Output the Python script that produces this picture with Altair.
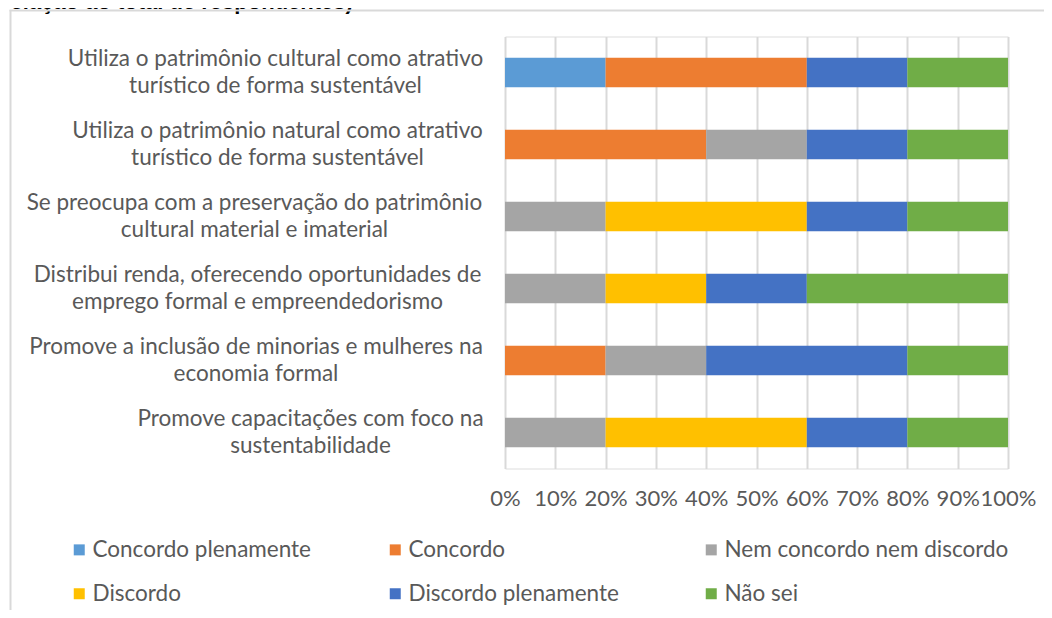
import json
import altair as alt
import pandas as pd

title_text = "relação ao total de respondentes)"

questions = [
    "Utiliza o patrimônio cultural como atrativo|turístico de forma sustentável",
    "Utiliza o patrimônio natural como atrativo|turístico de forma sustentável",
    "Se preocupa com a preservação do patrimônio|cultural material e imaterial",
    "Distribui renda, oferecendo oportunidades de|emprego formal e empreendedorismo",
    "Promove a inclusão de minorias e mulheres na|economia formal",
    "Promove capacitações com foco na|sustentabilidade",
]

categories = ["Concordo plenamente", "Concordo", "Nem concordo nem discordo",
              "Discordo", "Discordo plenamente", "Não sei"]
colors = ["#5B9BD5", "#ED7D31", "#A5A5A5", "#FFC000", "#4472C4", "#70AD47"]

concordo_plenamente = [20, 0, 0, 0, 0, 0]
concordo = [40, 40, 0, 0, 20, 0]
nem = [0, 20, 20, 20, 20, 20]
discordo = [0, 0, 40, 20, 0, 40]
discordo_plenamente = [20, 20, 20, 20, 40, 20]
nao_sei = [20, 20, 20, 40, 20, 20]

series = [concordo_plenamente, concordo, nem, discordo, discordo_plenamente, nao_sei]

rows = []
for ci, (cat, vals) in enumerate(zip(categories, series)):
    for q, v in zip(questions, vals):
        if v > 0:
            rows.append({"pergunta": q, "resposta": cat, "valor": v, "ordem": ci})
df = pd.DataFrame(rows)

FONT = "Lato"
GRAY = "#595959"

# label block style: lines centred, block ending ~23px left of the plot
label_centre_pad = [230, 228, 251, 248, 249.5, 195]
pad_cond = {
    "condition": [
        {"test": f"datum.value === {json.dumps(q)}", "value": p}
        for q, p in zip(questions, label_centre_pad)
    ],
    "value": 23,
}

bars = alt.Chart(df).mark_bar().encode(
    y=alt.Y("pergunta:N", sort=questions, title=None,
            scale=alt.Scale(paddingInner=0.589, paddingOuter=0.2945),
            axis=alt.Axis(labelExpr="split(datum.label, '|')", labelFont=FONT,
                          labelFontSize=22.5, labelColor=GRAY, labelLineHeight=27,
                          labelPadding=pad_cond, labelOffset=-13.5,
                          labelLimit=600, ticks=False, domain=False,
                          labelAlign="center")),
    x=alt.X("valor:Q", stack="normalize", title=None,
            scale=alt.Scale(domain=[0, 1], nice=False),
            axis=alt.Axis(values=[i / 10 for i in range(11)], format=".0%",
                          labelFont=FONT, labelFontSize=22, labelColor=GRAY,
                          labelPadding=20, ticks=False, domain=False,
                          grid=True, gridColor="#D9D9D9", gridWidth=2,
                          labelFlush=False, labelOverlap=False)),
    color=alt.Color("resposta:N", sort=categories,
                    scale=alt.Scale(domain=categories, range=colors),
                    legend=alt.Legend(title=None, orient="none", legendX=-437, legendY=502,
                                      columns=3, direction="horizontal", gridAlign="all",
                                      symbolType="square", symbolSize=121, symbolStrokeWidth=0,
                                      labelFont=FONT, labelFontSize=22.5, labelColor=GRAY,
                                      labelLimit=600, labelOffset=2,
                                      columnPadding=7, rowPadding=21)),
    order=alt.Order("ordem:Q"),
)

one = pd.DataFrame({"t": [title_text]})

title = alt.Chart(one).mark_text(align="left", baseline="alphabetic", font="Liberation Sans",
                                 fontWeight="bold", fontSize=22, color="black").encode(
    text="t:N", x=alt.value(-503), y=alt.value(-27.5))

border_v = alt.Chart(one).mark_rule(color="#D9D9D9", strokeWidth=2).encode(
    x=alt.value(-494.5), y=alt.value(-26.5), y2=alt.value(573.5))
border_h = alt.Chart(one).mark_rule(color="#D9D9D9", strokeWidth=2).encode(
    x=alt.value(-495.5), x2=alt.value(539), y=alt.value(-26))

chart = alt.layer(bars, title, border_v, border_h).properties(
    width=503, height=432,
    padding={"left": 497, "top": 28.5, "right": 36, "bottom": 141.5},
    autosize="none",
).configure_view(stroke=None).configure(background="white")

chart.save("out.html", embed_options={"renderer": "svg", "actions": False})
